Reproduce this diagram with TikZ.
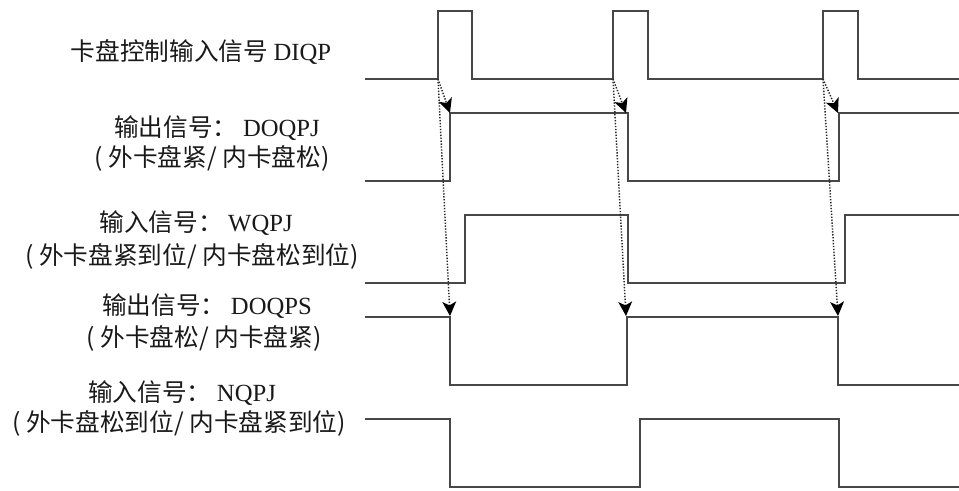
\documentclass[tikz,border=0pt]{standalone}
\usepackage{fontspec}
\setmainfont{Noto Sans CJK SC}
\newfontfamily\lat{Liberation Serif}
\usetikzlibrary{calc}
\begin{document}
\begin{tikzpicture}[x=0.75pt,y=-0.75pt,
  wave/.style={line width=1.1pt, draw=black!72, line join=miter},
  dotline/.style={dash pattern=on 1pt off 1.2pt, line width=1.1pt, draw=black!85},
  tiphead/.style={fill=black},
  lbl/.style={font=\fontsize{18.5}{20}\selectfont, text=black!90, inner sep=0pt, anchor=center}]
\useasboundingbox (0,0) rectangle (959,490);

% labels
\node[lbl] (l1)  at (201,52)  {卡盘控制输入信号 {\lat DIQP}};
\node[lbl] (l2a) at (217,128) {输出信号： {\lat DOQPJ}};
\node[lbl] (l2b) at (212,158) {( 外卡盘紧/ 内卡盘松)};
\node[lbl] (l3a) at (196,223) {输入信号： {\lat WQPJ}};
\node[lbl] (l3b) at (192,256) {( 外卡盘紧到位/ 内卡盘松到位)};
\node[lbl] (l4a) at (207,306) {输出信号： {\lat DOQPS}};
\node[lbl] (l4b) at (204,338) {( 外卡盘松/ 内卡盘紧)};
\node[lbl] (l5a) at (182,393) {输入信号： {\lat NQPJ}};
\node[lbl] (l5b) at (179,423) {( 外卡盘松到位/ 内卡盘紧到位)};

% edge coordinates
\coordinate (s1) at (438,79);
\coordinate (s2) at (613,79);
\coordinate (s3) at (823,79);
\coordinate (a1) at (450,113);
\coordinate (a2) at (626,113);
\coordinate (a3) at (838,113);
\coordinate (b1) at (450,316);
\coordinate (b2) at (626,316);
\coordinate (b3) at (838,316);

% waveforms
\draw[wave] (365,79) -- (s1) -- (438,11) -- (472,11) -- (472,79) -- (s2) -- (613,11) -- (648,11) -- (648,79) -- (s3) -- (823,11) -- (858,11) -- (858,79) -- (959,79);
\draw[wave] (365,181) -- (450,181) -- (450,113) -- (628,113) -- (628,181) -- (839,181) -- (839,113) -- (959,113);
\draw[wave] (365,283) -- (465,283) -- (465,215) -- (628,215) -- (628,283) -- (845,283) -- (845,215) -- (959,215);
\draw[wave] (365,317) -- (450,317) -- (450,385) -- (627,385) -- (627,317) -- (838,317) -- (838,385) -- (959,385);
\draw[wave] (365,419) -- (450,419) -- (450,487) -- (640,487) -- (640,419) -- (839,419) -- (839,487) -- (959,487);

% cause arrows
\foreach \s/\t in {s1/a1,s1/b1,s2/a2,s2/b2,s3/a3,s3/b3}{
  \draw[dotline] (\s) -- ($(\t)!7pt!(\s)$);
  \fill[tiphead] (\t) -- ($(\t)!12pt!26:(\s)$) -- ($(\t)!8pt!(\s)$) -- ($(\t)!12pt!-26:(\s)$) -- cycle;
}
\end{tikzpicture}
\end{document}
